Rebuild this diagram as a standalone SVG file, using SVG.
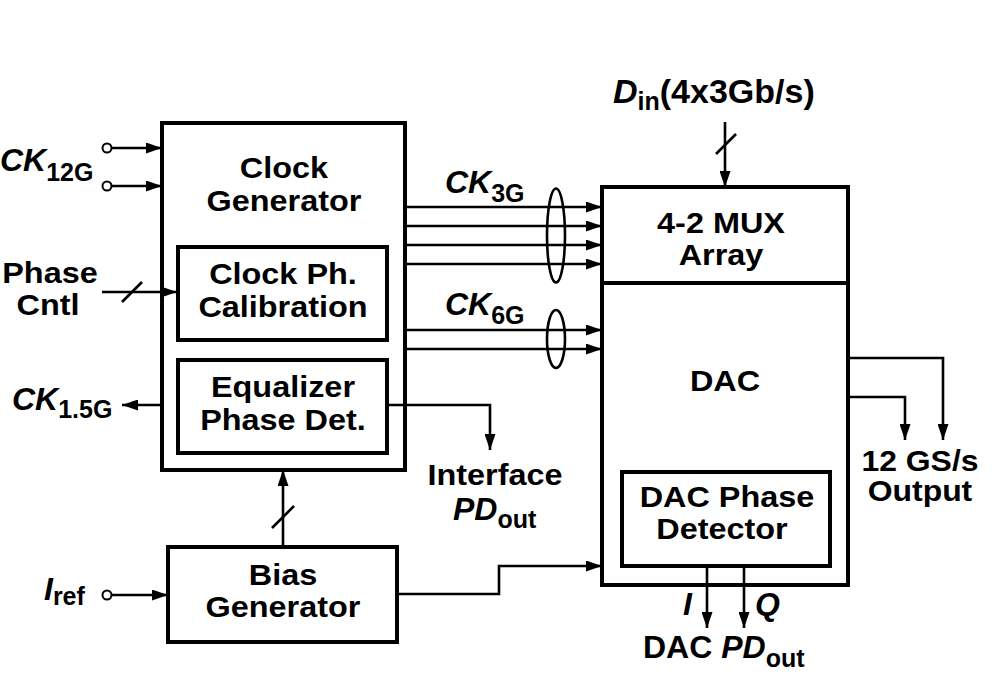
<svg xmlns="http://www.w3.org/2000/svg" width="992" height="697" viewBox="0 0 992 697">
<style>
text{font-family:"Liberation Sans",Arial,sans-serif;font-weight:bold;font-size:32px;fill:#000}
.c{text-anchor:middle;font-size:30px;transform-box:fill-box;transform-origin:center;transform:scaleX(1.08)}
.s{font-size:29px;transform:scaleX(1.1)}
.it{font-style:italic}
.sub{font-size:25px;font-style:normal}
.box{fill:#fff;stroke:#000;stroke-width:4}
.ln{fill:none;stroke:#000;stroke-width:2.6}
.pin{fill:#fff;stroke:#000;stroke-width:2}
</style>
<defs>
<marker id="ah" markerUnits="userSpaceOnUse" markerWidth="17" markerHeight="11" refX="16" refY="5.5" orient="auto">
<path d="M0,0 L16,5.5 L0,11 z" fill="#000"/>
</marker>
</defs>
<rect width="992" height="697" fill="#fff"/>

<g id="clock-generator">
<rect class="box" x="162" y="123" width="243" height="347"/>
<text class="c" x="284" y="178">Clock</text>
<text class="c" x="284" y="211">Generator</text>
</g>
<g id="clock-ph-calibration">
<rect class="box" x="178" y="247" width="209" height="93"/>
<text class="c" x="283" y="284">Clock Ph.</text>
<text class="c" x="283" y="317">Calibration</text>
</g>
<g id="equalizer-phase-det">
<rect class="box" x="178" y="360" width="209" height="93"/>
<text class="c" x="283" y="397">Equalizer</text>
<text class="c" x="283" y="430">Phase Det.</text>
</g>
<g id="mux-array">
<rect class="box" x="602" y="187" width="246" height="96"/>
<text class="c" x="721" y="233">4-2 MUX</text>
<text class="c" x="721" y="265">Array</text>
</g>
<g id="dac">
<rect class="box" x="602" y="283" width="246" height="302"/>
<text class="c" x="725" y="391">DAC</text>
</g>
<g id="dac-phase-detector">
<rect class="box" x="622" y="472" width="208" height="94"/>
<text class="c" x="727" y="507">DAC Phase</text>
<text class="c" x="722" y="539">Detector</text>
</g>
<g id="bias-generator">
<rect class="box" x="168" y="547" width="229" height="95"/>
<text class="c" x="283" y="585">Bias</text>
<text class="c" x="283" y="617">Generator</text>
</g>

<g id="connectors">
<circle class="pin" cx="107" cy="148" r="4.5"/>
<circle class="pin" cx="107" cy="186" r="4.5"/>
<line class="ln" x1="111.5" y1="148" x2="162" y2="148" marker-end="url(#ah)"/>
<line class="ln" x1="111.5" y1="186" x2="162" y2="186" marker-end="url(#ah)"/>
<line class="ln" x1="102" y1="292" x2="177" y2="292" marker-end="url(#ah)"/>
<line class="ln" x1="122" y1="302" x2="142" y2="282"/>
<line class="ln" x1="162" y1="405" x2="122" y2="405" marker-end="url(#ah)"/>
<polyline class="ln" points="387,405 490,405 490,450" marker-end="url(#ah)"/>
<line class="ln" x1="405" y1="207" x2="602" y2="207" marker-end="url(#ah)"/>
<line class="ln" x1="405" y1="226" x2="602" y2="226" marker-end="url(#ah)"/>
<line class="ln" x1="405" y1="245" x2="602" y2="245" marker-end="url(#ah)"/>
<line class="ln" x1="405" y1="264" x2="602" y2="264" marker-end="url(#ah)"/>
<ellipse class="ln" cx="556" cy="235.5" rx="9" ry="47"/>
<line class="ln" x1="405" y1="330" x2="602" y2="330" marker-end="url(#ah)"/>
<line class="ln" x1="405" y1="349" x2="602" y2="349" marker-end="url(#ah)"/>
<ellipse class="ln" cx="556" cy="339" rx="9" ry="29"/>
<line class="ln" x1="725" y1="122" x2="725" y2="187" marker-end="url(#ah)"/>
<line class="ln" x1="716" y1="154" x2="736" y2="134"/>
<polyline class="ln" points="848,358 943,358 943,440" marker-end="url(#ah)"/>
<polyline class="ln" points="848,397 905,397 905,440" marker-end="url(#ah)"/>
<line class="ln" x1="707" y1="566" x2="707" y2="628" marker-end="url(#ah)"/>
<line class="ln" x1="744" y1="566" x2="744" y2="628" marker-end="url(#ah)"/>
<line class="ln" x1="283" y1="547" x2="283" y2="470" marker-end="url(#ah)"/>
<line class="ln" x1="272" y1="528" x2="294" y2="506"/>
<polyline class="ln" points="397,594 499,594 499,566 602,566" marker-end="url(#ah)"/>
<circle class="pin" cx="107" cy="595" r="4.5"/>
<line class="ln" x1="111.5" y1="595" x2="168" y2="595" marker-end="url(#ah)"/>
</g>

<g id="labels">
<text x="0" y="171"><tspan class="it">CK</tspan><tspan class="sub" dy="10">12G</tspan></text>
<text class="c" x="50" y="283">Phase</text>
<text class="c" x="48" y="315">Cntl</text>
<text x="12" y="410"><tspan class="it">CK</tspan><tspan class="sub" dy="8">1.5G</tspan></text>
<text x="44" y="600"><tspan class="it">I</tspan><tspan class="sub" dy="5">ref</tspan></text>
<text x="445" y="193"><tspan class="it">CK</tspan><tspan class="sub" dy="9">3G</tspan></text>
<text x="445" y="315"><tspan class="it">CK</tspan><tspan class="sub" dy="9">6G</tspan></text>
<text x="613" y="103" style="font-size:34px"><tspan class="it">D</tspan><tspan class="sub" dy="7">in</tspan><tspan dy="-7">(4x3Gb/s)</tspan></text>
<text class="c" x="495" y="485">Interface</text>
<text x="453" y="520"><tspan class="it">PD</tspan><tspan class="sub" dy="8">out</tspan></text>
<text class="c s" x="920" y="471">12 GS/s</text>
<text class="c s" x="920" y="501">Output</text>
<text class="it" x="683" y="615">I</text>
<text class="it" x="755" y="615">Q</text>
<text x="643" y="658">DAC <tspan class="it">PD</tspan><tspan class="sub" dy="9">out</tspan></text>
</g>
</svg>
